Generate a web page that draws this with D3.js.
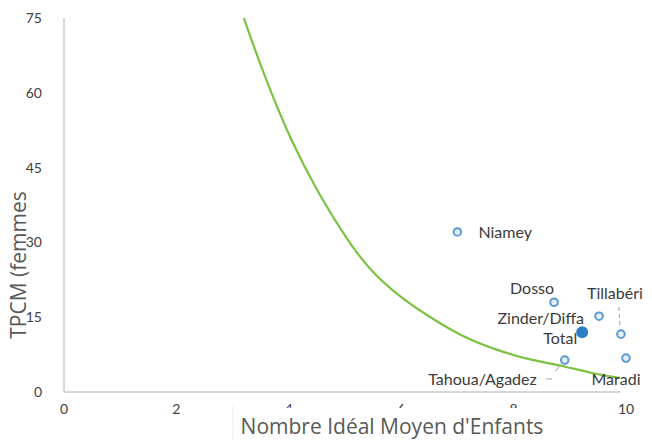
<!DOCTYPE html>
<html>
<head>
<meta charset="utf-8">
<script src="https://cdn.jsdelivr.net/npm/d3@7"></script>
<style>
  body { margin: 0; background: #fff; }
  svg { display: block; }
</style>
</head>
<body>
<svg id="chart"></svg>
<script>
// Regions: ideal number of children vs TPCM
const regions = ['Niamey', 'Dosso', 'Zinder/Diffa', 'Total', 'Tillabéri', 'Maradi', 'Tahoua/Agadez'];
const idealKids = [7.0, 8.72, 9.52, 9.22, 9.91, 10.0, 8.91];
const tpcm = [32.1, 18.0, 15.2, 12.0, 11.6, 6.8, 6.4];

// Fitted curve
const curveX = [3.2, 3.54, 4.02, 4.56, 5.04, 5.44, 5.98, 6.51, 7.10, 7.70, 8.29, 8.91, 9.36, 9.89];
const curveY = [75.0, 64.1, 50.7, 39.1, 30.5, 24.4, 19.0, 15.0, 11.0, 8.4, 6.4, 5.2, 3.8, 2.8];

const xTicks = [0, 2, 4, 6, 8, 10];
const yTicks = [0, 15, 30, 45, 60, 75];

const width = 652, height = 440;
const svg = d3.select('#chart').attr('width', width).attr('height', height);

const x = d3.scaleLinear().domain([0, 10]).range([64, 626]);
const y = d3.scaleLinear().domain([0, 75]).range([392, 18]);

const tickFont = 'Lato, "Open Sans", sans-serif';
const titleFont = '"Open Sans", sans-serif';

// axis lines
svg.append('line')
    .attr('x1', x(0)).attr('x2', x(0))
    .attr('y1', y(75)).attr('y2', y(0))
    .attr('stroke', '#c8c8c8').attr('stroke-width', 1.5);
svg.append('line')
    .attr('x1', x(0)).attr('x2', 620)
    .attr('y1', y(0)).attr('y2', y(0))
    .attr('stroke', '#c8c8c8').attr('stroke-width', 1.5);

// y tick labels
svg.selectAll('.ytick')
    .data(yTicks)
    .enter()
    .append('text')
    .attr('class', 'ytick')
    .attr('x', 42)
    .attr('y', d => y(d))
    .attr('dy', '.35em')
    .attr('text-anchor', 'end')
    .attr('font-family', tickFont)
    .attr('font-size', 14)
    .attr('fill', '#404040')
    .text(d => d);

// x tick labels
svg.selectAll('.xtick')
    .data(xTicks)
    .enter()
    .append('text')
    .attr('class', 'xtick')
    .attr('x', d => x(d))
    .attr('y', 414)
    .attr('text-anchor', 'middle')
    .attr('font-family', tickFont)
    .attr('font-size', 14)
    .attr('fill', '#404040')
    .text(d => d);

// curve
const line = d3.line()
    .x(d => x(d[0]))
    .y(d => y(d[1]))
    .curve(d3.curveBasis);
svg.append('path')
    .datum(d3.zip(curveX, curveY))
    .attr('d', line)
    .attr('fill', 'none')
    .attr('stroke', '#7cc242')
    .attr('stroke-width', 2.2);

// leader lines
svg.append('line')
    .attr('x1', x(9.91) - 2).attr('x2', x(9.91) - 1)
    .attr('y1', 307).attr('y2', 327)
    .attr('stroke', '#a0a0a0').attr('stroke-dasharray', '4,3');
svg.append('line')
    .attr('x1', 546).attr('x2', 552)
    .attr('y1', 379).attr('y2', 379)
    .attr('stroke', '#a0a0a0');
svg.append('line')
    .attr('x1', x(8.91) - 5).attr('x2', x(8.91) - 9)
    .attr('y1', y(6.4) + 5).attr('y2', y(6.4) + 11)
    .attr('stroke', '#a0a0a0');

// points
const pts = d3.range(regions.length).map(i => ({
    name: regions[i], x: idealKids[i], y: tpcm[i]
}));
svg.selectAll('.pt')
    .data(pts)
    .enter()
    .append('circle')
    .attr('class', 'pt')
    .attr('cx', d => x(d.x))
    .attr('cy', d => y(d.y))
    .attr('r', d => d.name === 'Total' ? 5 : 3.8)
    .attr('fill', d => d.name === 'Total' ? '#2f7fc4' : '#e3eef8')
    .attr('stroke', d => d.name === 'Total' ? '#2f7fc4' : '#5b9bd5')
    .attr('stroke-width', 2);

// point labels (offset from each point)
const labelOffsets = {
    'Niamey': [21, 0, 'start'],
    'Dosso': [-22, -14, 'middle'],
    'Zinder/Diffa': [-15, 2, 'end'],
    'Total': [-5, 6, 'end'],
    'Tillabéri': [-6, -41, 'middle'],
    'Maradi': [-10, 21, 'middle'],
    'Tahoua/Agadez': [-28, 19, 'end']
};
svg.selectAll('.lbl')
    .data(pts)
    .enter()
    .append('text')
    .attr('class', 'lbl')
    .attr('x', d => x(d.x) + labelOffsets[d.name][0])
    .attr('y', d => y(d.y) + labelOffsets[d.name][1])
    .attr('dy', '.35em')
    .attr('text-anchor', d => labelOffsets[d.name][2])
    .attr('font-family', tickFont)
    .attr('font-size', 16)
    .attr('fill', '#3a3a3a')
    .text(d => d.name);

// x axis title box (hides lower part of middle tick labels)
svg.append('rect')
    .attr('x', 233).attr('y', 408)
    .attr('width', 330).attr('height', 32)
    .attr('fill', '#fff');
svg.append('line')
    .attr('x1', 233).attr('x2', 233)
    .attr('y1', 405).attr('y2', 440)
    .attr('stroke', '#eeeeee');
svg.append('text')
    .attr('x', 392)
    .attr('y', 434)
    .attr('text-anchor', 'middle')
    .attr('font-family', titleFont)
    .attr('font-size', 21)
    .attr('fill', '#595959')
    .text("Nombre Idéal Moyen d'Enfants");

// y axis title
svg.append('text')
    .attr('transform', 'translate(26, 265) rotate(-90)')
    .attr('text-anchor', 'middle')
    .attr('font-family', titleFont)
    .attr('font-size', 21)
    .attr('fill', '#595959')
    .text('TPCM (femmes');
</script>
</body>
</html>
